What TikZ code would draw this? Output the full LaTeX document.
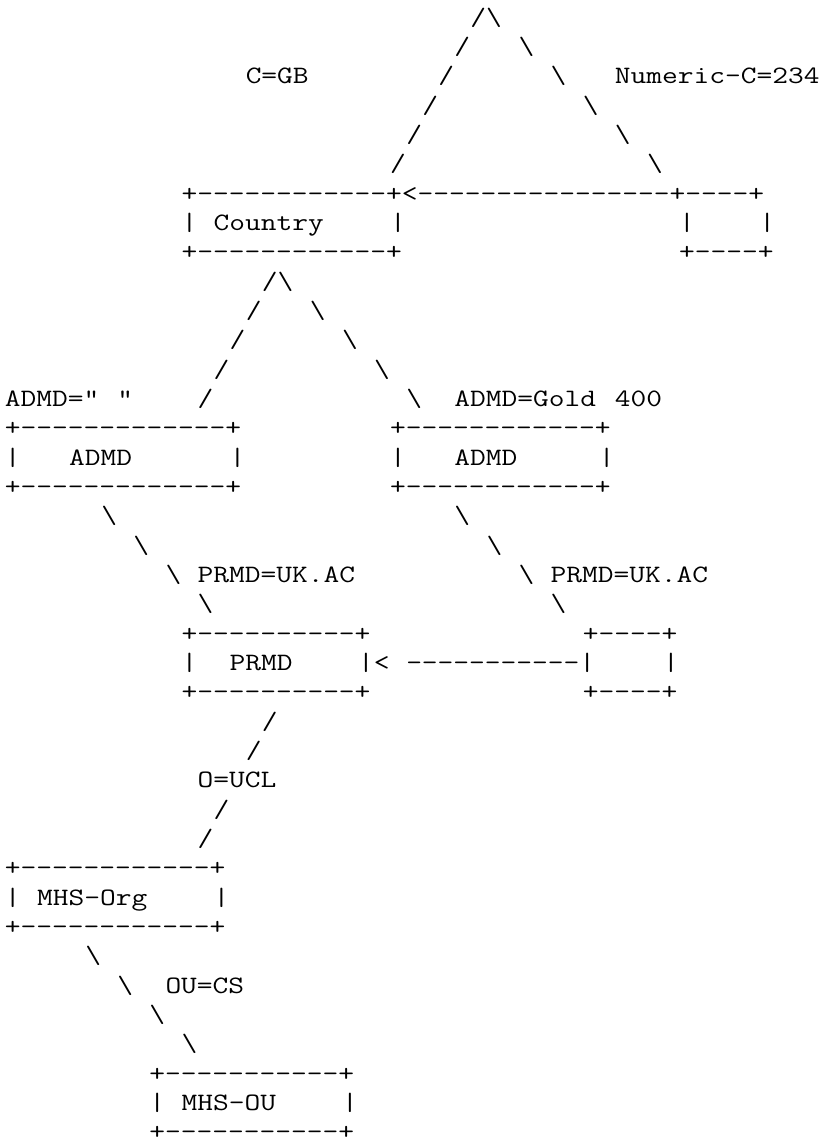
\documentclass[tikz,border=0pt]{standalone}
\usepackage{graphicx}
\ExplSyntaxOn
\cs_new:Npn \dd #1 { \prg_replicate:nn {#1} { \mbox{-} } }
\ExplSyntaxOff
\newcommand\bs{\textbackslash}
\tikzset{txt/.style={inner sep=0pt, outer sep=0pt, anchor=base west,
  font=\fontsize{25}{25}\selectfont\ttfamily}}
% \seg{name}{column}{row}{text}
\newcommand\seg[4]{\node[txt] (#1) at ({5+16.05*#2},{-(25+29.34*(#3-1))}) {\scalebox{1.2229}[1]{#4}};}
\begin{document}
\begin{tikzpicture}[x=1pt,y=1pt]
\fill[white] (0,0) rectangle (824,-1144);
\useasboundingbox (0,0) rectangle (824,-1144);
% top triangle
\seg{t1}{29}{1}{/\bs}
\seg{t2l}{28}{2}{/}\seg{t2r}{32}{2}{\bs}
\seg{cgb}{15}{3}{C=GB}\seg{t3l}{27}{3}{/}\seg{t3r}{34}{3}{\bs}\seg{numc}{38}{3}{Numeric-C=234}
\seg{t4l}{26}{4}{/}\seg{t4r}{36}{4}{\bs}
\seg{t5l}{25}{5}{/}\seg{t5r}{38}{5}{\bs}
\seg{t6l}{24}{6}{/}\seg{t6r}{40}{6}{\bs}
% Country box row
\seg{country1}{11}{7}{+\dd{12}+<\dd{16}+\dd{4}+}
\seg{country2a}{11}{8}{|}\seg{countrytxt}{13}{8}{Country}\seg{country2b}{24}{8}{|}
\seg{num2a}{42}{8}{|}\seg{num2b}{47}{8}{|}
\seg{country3}{11}{9}{+\dd{12}+}\seg{num3}{42}{9}{+\dd{4}+}
% second triangle
\seg{s1}{16}{10}{/\bs}
\seg{s2l}{15}{11}{/}\seg{s2r}{19}{11}{\bs}
\seg{s3l}{14}{12}{/}\seg{s3r}{21}{12}{\bs}
\seg{s4l}{13}{13}{/}\seg{s4r}{23}{13}{\bs}
\seg{admdq}{0}{14}{ADMD="}\seg{admdq2}{7}{14}{"}\seg{s5l}{12}{14}{/}\seg{s5r}{25}{14}{\bs}
\seg{gold}{28}{14}{ADMD=Gold}\seg{gold4}{38}{14}{400}
% ADMD boxes
\seg{a1l}{0}{15}{+\dd{13}+}\seg{a1r}{24}{15}{+\dd{12}+}
\seg{a2la}{0}{16}{|}\seg{a2lt}{4}{16}{ADMD}\seg{a2lb}{14}{16}{|}
\seg{a2ra}{24}{16}{|}\seg{a2rt}{28}{16}{ADMD}\seg{a2rb}{37}{16}{|}
\seg{a3l}{0}{17}{+\dd{13}+}\seg{a3r}{24}{17}{+\dd{12}+}
% links to PRMD
\seg{p1l}{6}{18}{\bs}\seg{p1r}{28}{18}{\bs}
\seg{p2l}{8}{19}{\bs}\seg{p2r}{30}{19}{\bs}
\seg{p3l}{10}{20}{\bs}\seg{prmdl}{12}{20}{PRMD=UK.AC}\seg{p3r}{32}{20}{\bs}\seg{prmdr}{34}{20}{PRMD=UK.AC}
\seg{p4l}{12}{21}{\bs}\seg{p4r}{34}{21}{\bs}
% PRMD boxes
\seg{b1l}{11}{22}{+\dd{10}+}\seg{b1r}{36}{22}{+\dd{4}+}
\seg{b2la}{11}{23}{|}\seg{b2lt}{14}{23}{PRMD}\seg{b2lb}{22}{23}{|<}
\seg{b2arrow}{25}{23}{\dd{11}|}\seg{b2rb}{41}{23}{|}
\seg{b3l}{11}{24}{+\dd{10}+}\seg{b3r}{36}{24}{+\dd{4}+}
% to MHS-Org
\seg{o1}{16}{25}{/}
\seg{o2}{15}{26}{/}
\seg{oucl}{12}{27}{O=UCL}
\seg{o3}{13}{28}{/}
\seg{o4}{12}{29}{/}
% MHS-Org box
\seg{m1}{0}{30}{+\dd{12}+}
\seg{m2a}{0}{31}{|}\seg{m2t}{2}{31}{MHS-Org}\seg{m2b}{13}{31}{|}
\seg{m3}{0}{32}{+\dd{12}+}
% to MHS-OU
\seg{u1}{5}{33}{\bs}
\seg{u2}{7}{34}{\bs}\seg{oucs}{10}{34}{OU=CS}
\seg{u3}{9}{35}{\bs}
\seg{u4}{11}{36}{\bs}
% MHS-OU box
\seg{n1}{9}{37}{+\dd{11}+}
\seg{n2a}{9}{38}{|}\seg{n2t}{11}{38}{MHS-OU}\seg{n2b}{21}{38}{|}
\seg{n3}{9}{39}{+\dd{11}+}
\end{tikzpicture}
\end{document}
